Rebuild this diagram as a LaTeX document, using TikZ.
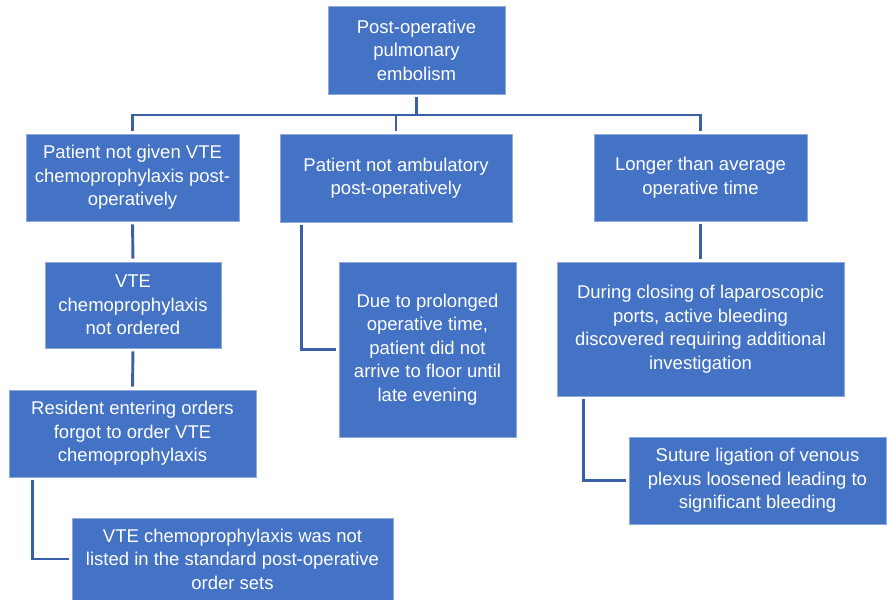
\documentclass[tikz,border=0pt]{standalone}
\usepackage{fontspec}
\setmainfont{Liberation Sans}
\definecolor{boxfill}{HTML}{4472C4}
\definecolor{boxedge}{HTML}{8EA9DB}
\definecolor{linkblue}{HTML}{3A60AA}
\begin{document}
\begin{tikzpicture}[x=1pt,y=-1pt,
  box/.style={rectangle, fill=boxfill, draw=boxedge, line width=0.7pt,
    text=white, align=center, inner sep=0pt,
    font=\fontsize{18.5}{23.5}\selectfont},
  conn/.style={draw=linkblue, line width=2.9pt, line join=miter},
  gap/.style={shorten <=3pt, shorten >=3pt}]
\useasboundingbox (0,0) rectangle (887,600);

% boxes
\node[box, minimum width=177, minimum height=88] (b1) at (416.5,50)
  {Post-operative\\pulmonary\\embolism};
\node[box, minimum width=213, minimum height=87] (b2) at (132.5,177.5)
  {Patient not given VTE\\chemoprophylaxis post-\\operatively};
\node[box, minimum width=232, minimum height=88] (b3) at (396,178)
  {Patient not ambulatory\\post-operatively};
\node[box, minimum width=213, minimum height=87] (b4) at (700.5,177.5)
  {Longer than average\\operative time};
\node[box, minimum width=176, minimum height=86] (b5) at (133,305)
  {VTE\\chemoprophylaxis\\not ordered};
\node[box, minimum width=247, minimum height=87] (b6) at (132.5,433.5)
  {Resident entering orders\\forgot to order VTE\\chemoprophylaxis};
\node[box, minimum width=321, minimum height=82] (b7) at (232.5,559)
  {VTE chemoprophylaxis was not\\listed in the standard post-operative\\order sets};
\node[box, minimum width=177, minimum height=175] (b8) at (427.5,349.5)
  {Due to prolonged\\operative time,\\patient did not\\arrive to floor until\\late evening};
\node[box, minimum width=287, minimum height=134] (b9) at (700.5,329)
  {During closing of laparoscopic\\ports, active bleeding\\discovered requiring additional\\investigation};
\node[box, minimum width=257, minimum height=87] (b10) at (757.5,480.5)
  {Suture ligation of venous\\plexus loosened leading to\\significant bleeding};

% top-level bus
\coordinate (bus) at (416.5,115);
\draw[conn, shorten <=3pt] (b1.south) -- (bus);
\draw[conn, gap] (b2.north) |- (bus) -| (b4.north);
\draw[conn, shorten >=3pt] (bus -| b3.north) -- (b3.north);

% left chain
\draw[conn, gap] (b2.south) -- (b5.north);
\draw[conn, gap] (b5.south) -- (b6.north);
\draw[conn, gap] ([xshift=24pt]b6.south west) |- (b7.west);

% middle branch
\draw[conn, gap] ([xshift=22pt]b3.south west) |- (b8.west);

% right chain
\draw[conn, gap] (b4.south) -- (b9.north);
\draw[conn, gap] ([xshift=27pt]b9.south west) |- (b10.west);
\end{tikzpicture}
\end{document}
